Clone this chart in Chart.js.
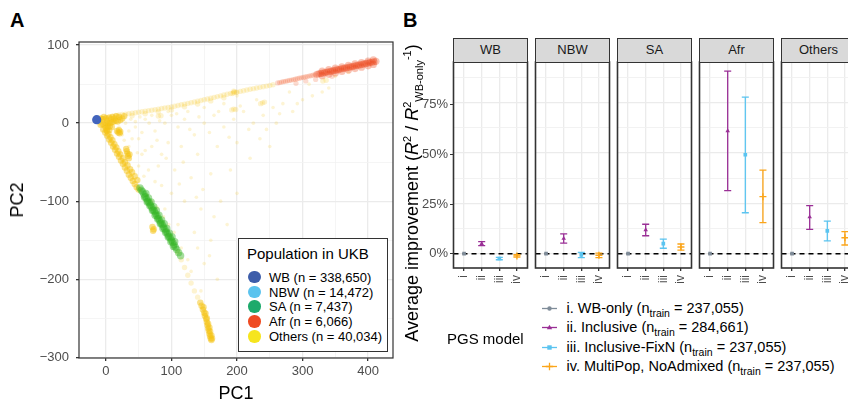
<!DOCTYPE html>
<html><head><meta charset="utf-8">
<script src="https://cdn.jsdelivr.net/npm/chart.js"></script>
<style>
html,body{margin:0;padding:0;background:#fff}
body{width:848px;height:404px;overflow:hidden;position:relative;font-family:"Liberation Sans",Arial,Helvetica,sans-serif;color:#000}
.abs{position:absolute;white-space:nowrap}
canvas{position:absolute}
.strip{position:absolute;background:#D9D9D9;border:1.5px solid #333;box-sizing:border-box;font-size:13px;color:#1A1A1A;text-align:center}
.lg{position:absolute;font-size:13px;line-height:13px;white-space:nowrap}
.lgb{position:absolute;font-size:14.5px;line-height:14.5px;white-space:nowrap}
.lgb sub{font-size:10.5px;vertical-align:-4px;line-height:0}
.dot{position:absolute;width:12.5px;height:12.5px;border-radius:50%}
</style></head><body>
<div class="abs" style="left:10px;top:10px;font-size:20px;line-height:20px;font-weight:bold">A</div>
<div class="abs" style="left:403px;top:10px;font-size:20px;line-height:20px;font-weight:bold">B</div>
<canvas id="pca" width="400" height="404" style="left:0;top:0;width:400px;height:404px"></canvas>
<div class="abs" style="left:236px;top:393px;font-size:18px;line-height:18px;transform:translate(-50%,-50%)">PC1</div>
<div class="abs" style="left:17px;top:200px;font-size:18px;line-height:18px;transform:translate(-50%,-50%) rotate(-90deg)">PC2</div>
<div class="abs" style="left:413px;top:193px;font-size:18px;line-height:18px;transform:translate(-50%,-50%) rotate(-90deg)">Average improvement (<i>R</i><sup style="font-size:11px">2</sup> / <i>R</i><sup style="font-size:11px">2</sup><sub style="font-size:11px">WB-only</sub><sup style="font-size:11px">-1</sup>)</div>
<div id="legA"></div>
<div id="facets"></div>
<div id="legB"></div>
<script>
// ---------- Panel A data (PC1, PC2) ----------
const popLabels = ['WB (n = 338,650)','NBW (n = 14,472)','SA (n = 7,437)','Afr (n = 6,066)','Others (n = 40,034)'];
const popColors = ['#3D5DAA','#5BC3EE','#1DAA6B','#EF4B22','#F6E51E'];
const pc1Ticks = [0,50,100,150,200,250,300,350,400];
const pc2Ticks = [-300,-250,-200,-150,-100,-50,0,50,100];
const wbPoints = [[-14,4.5]];
const nbwPoints = [[-13,4],[-15,5],[-12,3]];
const saPoints = [[52,-83],[54,-86],[56,-88],[58,-91],[60,-94],[62,-97],[64,-100],[66,-102],[68,-105],[70,-108],[72,-111],[74,-113],[76,-116],[78,-119],[80,-122],[82,-125],[84,-128],[86,-130],[88,-133],[90,-136],[92,-139],[94,-142],[96,-145],[98,-147],[100,-150],[102,-153],[104,-156],[106,-159],[108,-162],
  [61,-90],[65,-96],[69,-101],[73,-107],[77,-112],[81,-118],[85,-124],[89,-129],[93,-135],[97,-141],[101,-146],[105,-152],
  [59,-95],[63,-101],[67,-106],[71,-112],[75,-118],[79,-123],[83,-129],[87,-135],[91,-140],[95,-146],[99,-152],[103,-158],
  [111,-166],[114,-170]];
const afrTail = [[262,51.5],[265,52],[268,52.6],[271,53.1],[274,53.7],[277,54.2],[280,54.8],[283,55.3],[286,55.9],[289,56.4],[292,57],[295,57.6],[298,58.2],[301,58.7],[304,59.3],[307,59.8],[310,60.4],[313,60.9],[316,61.5],[319,62],
  [290,51],[305,54],[320,56],[345,60]];
const afrDense = [[322,62.6],[325,63.2],[328,63.7],[331,64.3],[334,64.8],[337,65.4],[340,65.9],[343,66.5],[346,67],[349,67.6],[352,68.2],[355,68.7],[358,69.3],[361,69.8],[364,70.4],[367,70.9],[370,71.5],[373,72],[376,72.6],[379,73.1],[382,73.7],[385,74.3],[388,74.8],[391,75.4],[394,75.9],[397,76.5],[400,77],[403,77.6],[406,78.1],[409,78.7],[412,79.2],
  [330,66.8],[340,68.7],[350,70.5],[360,72.3],[370,74.1],[380,75.9],[390,77.7],[400,79.5],[408,81],
  [330,60.8],[340,62.6],[350,64.4],[360,66.3],[370,68.1],[380,69.9],[390,71.7],[400,73.5],[408,75.2]];
const othersCore = [[-10,2],[-8,6],[-5,5],[-3,8],[0,6],[2,3],[5,7],[8,5],[10,8],[13,6],[16,9],[20,8],[-8,-2],[-5,-1],[-2,-3],[0,0],[3,-1],[6,0],[9,1],[12,2],[15,3],[18,2],[22,4],[25,6],[28,9],[0,-6],[3,-5],[6,-4],[9,-5],[2,-10],[5,-9],
  [17,-10],[19,-12],[21,-13],[20,-9],[22,-11],
  [31,-33],[32,-36],[33,-39],[34,-42],[35,-45],[36,-40],
  [-4,-8],[-1,-12],[2,-16],[5,-21],[8,-25],[11,-30],[14,-34],[17,-39],[20,-43],[23,-48],[26,-52],[29,-57],[32,-61],[35,-66],[38,-70],[41,-74],[44,-78],[47,-82],[50,-85],
  [1,-9],[4,-14],[7,-18],[10,-22],[13,-27],[16,-31],[19,-36],[22,-40],[26,-45],[29,-50],[33,-54],[37,-59],[40,-63],[44,-68],[48,-73],
  [144,-230],[146,-234],[148,-239],[150,-243],[151,-247],[153,-251],[154,-255],[155,-259],[156,-263],[157,-266],[158,-270],[159,-273],[160,-276],[161,-278],
  [149,-236],[152,-244],[154,-250],[156,-257],[158,-262],[159,-267],[161,-272],[162,-276],
  [71,-133],[73,-136],[72,-138]];
const othersArm = [[-5,6],[0,7],[5,8],[10,9],[15,9.8],[20,10.5],[25,11],[30,11.6],[35,12.2],[40,12.8],[45,13.4],[50,14],[55,14.7],[60,15.3],[65,16],[70,16.6],[75,17.3],[80,18],[85,18.7],[90,19.4],[95,20.1],[100,20.8],[105,21.7],[110,22.6],[115,23.5],[120,24.4],[125,25.3],[130,26.2],[135,27.1],[140,28],[145,29],[150,30],[155,31],[160,32],[165,33],[170,34],[175,35],[180,36],[185,37],[190,38],[195,39],[200,39.8],[205,40.7],[210,41.6],[215,42.5],[220,43.4],[225,44.2],[230,45],[235,45.9],[240,46.7],[245,47.5],[250,48.3],[255,49.2],
  [20,7],[40,9.5],[60,12],[80,14.5],[100,17],[120,21],[140,24.5],[160,28.5],[180,32.5],
  [193,38],[196,40],[199,39.5],[195,41],
  [80,9],[84,9.5],[192,17],[195,18],[198,17.5],[236,25],[239,26],[242,27],[331,54],[336,55],
  [110,-165],[115,-175],[120,-185],[125,-195],[130,-205],[135,-215],[140,-223]];
const othersCloud = [[30,0],[45,-5],[60,5],[75,-10],[90,0],[100,10],[110,-5],[120,5],[135,-15],[150,0],[165,10],[180,-5],[195,5],[210,15],[225,0],[240,10],[255,20],[270,25],[285,15],[300,30],[315,35],[330,40],[260,0],[235,-20],[200,-25],[170,-30],[140,-40],[115,-30],[95,-25],[70,-30],[55,-40],[80,-55],[105,-60],[130,-70],[160,-65],[190,-60],[220,-45],[250,-30],[120,-100],[145,-110],[175,-100],[200,-90],[100,-90],[135,-140],[160,-150],[185,-130],[150,-180],[170,-200],[130,-190],[145,-215],[40,-20],[25,-15],[65,-60],[85,-80],[50,-55],[35,-30],[180,25],[150,20],[125,15],[95,15],[70,10],[200,35],[230,30],[280,40],[310,50],[350,60],[370,65],[340,45],[110,-130],[90,-110],[115,-160],[125,-175],[62,-92],[70,-100],[78,-108],[88,-120],[96,-130],[104,-140],[20,-5],[35,-10],[50,-20],[60,-35],[85,-40],[45,2],[55,-12],
  [38,5],[52,8],[66,0],[82,3],[108,12],[128,-8],[142,8],[158,-12],[172,15],[188,-18],[205,22],[218,-8],[245,-8],[265,12],[292,25],[78,-22],[92,-45],[118,-50],[148,-85],[165,-120],[112,-78],[138,-95],[158,-170],[140,-160],[75,-75],[58,-68],[48,-38],[28,-22]];

// ---------- Panel B data (% improvement) ----------
const facetNames = ['WB','NBW','SA','Afr','Others'];
const modelTicks = ['i','ii','iii','iv'];
const modelNames = ['i. WB-only (n<sub>train</sub> = 237,055)','ii. Inclusive (n<sub>train</sub> = 284,661)','iii. Inclusive-FixN (n<sub>train</sub> = 237,055)','iv. MultiPop, NoAdmixed (n<sub>train</sub> = 237,055)'];
const modelColors = ['#7F8C99','#9A2F96','#5BC4F0','#FBA51A'];
const modelShapes = ['rect','triangle','rect','cross'];
const est_i   = [0, 0, 0, 0, 0];
const est_ii  = [5.0, 7.5, 11.8, 60.9, 18.2];
const lo_ii   = [4.0, 5.2, 8.9, 31.3, 12.1];
const hi_ii   = [6.0, 9.8, 14.6, 90.6, 23.8];
const est_iii = [-2.4, -0.6, 5.0, 49.1, 11.3];
const lo_iii  = [-3.0, -2.0, 2.7, 20.3, 6.4];
const hi_iii  = [-1.8, 0.7, 7.2, 77.7, 16.2];
const est_iv  = [-1.1, -0.8, 3.3, 28.3, 7.9];
const lo_iv   = [-1.7, -2.0, 1.8, 15.4, 4.3];
const hi_iv   = [-0.5, 0.3, 4.8, 41.5, 10.9];
const yPctTicks = [0, 12.5, 25, 37.5, 50, 62.5, 75, 87.5];

const FONT = '"Liberation Sans", Arial, Helvetica, sans-serif';
Chart.defaults.font.family = FONT;

const framePlugin = {
  id: 'frame',
  afterDatasetsDraw(chart, args, opts) {
    if (!opts.width) return;
    const a = chart.chartArea, ctx = chart.ctx;
    ctx.save();
    ctx.strokeStyle = opts.color || '#333';
    ctx.lineWidth = opts.width;
    ctx.strokeRect(a.left, a.top, a.right - a.left, a.bottom - a.top);
    ctx.restore();
  }
};
const toXY = arr => arr.map(p => ({x: p[0], y: p[1]}));
const minus = v => String(v).replace('-', '\u2212');
const isMajA = c => c.tick && c.tick.value % 100 === 0;

// ---------- Panel A ----------
new Chart(document.getElementById('pca'), {
  type: 'scatter',
  data: {datasets: [
    {label: 'WB', data: toXY(wbPoints), backgroundColor: 'rgba(66,100,188,1)', pointRadius: 4.6, borderWidth: 0},
    {label: 'Afr', data: toXY(afrDense), backgroundColor: 'rgba(236,72,28,0.32)', pointRadius: 3.6, borderWidth: 0},
    {label: 'Afr tail', data: toXY(afrTail), backgroundColor: 'rgba(240,90,40,0.22)', pointRadius: 2.6, borderWidth: 0},
    {label: 'SA', data: toXY(saPoints), backgroundColor: 'rgba(56,182,40,0.45)', pointRadius: 3.7, borderWidth: 0},
    {label: 'NBW', data: toXY(nbwPoints), backgroundColor: 'rgba(91,195,238,0.5)', pointRadius: 3, borderWidth: 0},
    {label: 'Others', data: toXY(othersCore), backgroundColor: 'rgba(246,196,20,0.5)', pointRadius: 3.2, borderWidth: 0},
    {label: 'Others arm', data: toXY(othersArm), backgroundColor: 'rgba(246,196,20,0.2)', pointRadius: 2.7, borderWidth: 0},
    {label: 'Others cloud', data: toXY(othersCloud), backgroundColor: 'rgba(246,200,40,0.2)', pointRadius: 1.8, borderWidth: 0}
  ]},
  options: {
    responsive: false, animation: false, events: [],
    layout: {padding: {top: 42, right: 7, left: 0, bottom: 0}},
    plugins: {legend: {display: false}, tooltip: {enabled: false}, frame: {color: '#333', width: 1.2}},
    scales: {
      x: {type: 'linear', min: -41, max: 438,
        afterBuildTicks: s => { s.ticks = pc1Ticks.map(v => ({value: v})); },
        afterFit: s => { s.height = 46; },
        ticks: {autoSkip: false, maxRotation: 0, color: '#4D4D4D', font: {size: 13}, padding: 3,
          callback: v => (v % 100 === 0 ? minus(v) : '')},
        grid: {color: c => (isMajA(c) ? '#EBEBEB' : '#F3F3F3'), lineWidth: c => (isMajA(c) ? 1.3 : 0.8),
          tickLength: 3, tickColor: c => (isMajA(c) ? '#333' : 'rgba(0,0,0,0)')},
        border: {display: false}},
      y: {type: 'linear', min: -301, max: 104,
        afterBuildTicks: s => { s.ticks = pc2Ticks.map(v => ({value: v})); },
        afterFit: s => { s.width = 79; },
        ticks: {autoSkip: false, color: '#4D4D4D', font: {size: 13}, padding: 7,
          callback: v => (v % 100 === 0 ? minus(v) : '')},
        grid: {color: c => (isMajA(c) ? '#EBEBEB' : '#F3F3F3'), lineWidth: c => (isMajA(c) ? 1.3 : 0.8),
          tickLength: 3, tickColor: c => (isMajA(c) ? '#333' : 'rgba(0,0,0,0)')},
        border: {display: false}}
    }
  },
  plugins: [framePlugin]
});

// Legend A
(function(){
  const L = document.getElementById('legA');
  let h = '<div class="abs" style="left:238px;top:238px;width:150px;height:114px;border:1px solid #333;box-sizing:border-box;background:#fff"></div>';
  h += '<div class="abs" style="left:247px;top:246px;font-size:15px;line-height:15px">Population in UKB</div>';
  const ys = [277, 292, 306.5, 321.5, 336.5];
  popLabels.forEach((t, i) => {
    h += '<div class="dot" style="left:248px;top:' + (ys[i] - 6.25) + 'px;background:' + popColors[i] + '"></div>';
    h += '<div class="lg" style="left:269px;top:' + (ys[i] - 6.3) + 'px">' + t + '</div>';
  });
  L.innerHTML = h;
})();

// ---------- Panel B facets ----------
const estAll = [est_i, est_ii, est_iii, est_iv];
const loAll = [null, lo_ii, lo_iii, lo_iv];
const hiAll = [null, hi_ii, hi_iii, hi_iv];
const errPlugin = {
  id: 'errbars',
  beforeDatasetsDraw(chart, args, opts) {
    if (opts.facet === undefined || opts.facet < 0) return;
    const f = opts.facet, ctx = chart.ctx, x = chart.scales.x, y = chart.scales.y, a = chart.chartArea;
    ctx.save();
    ctx.strokeStyle = '#000'; ctx.lineWidth = 1.4; ctx.setLineDash([5, 4]);
    const y0 = y.getPixelForValue(0);
    ctx.beginPath(); ctx.moveTo(a.left, y0); ctx.lineTo(a.right, y0); ctx.stroke();
    ctx.setLineDash([]);
    ctx.lineWidth = 1.3;
    for (let m = 1; m < 4; m++) {
      const xp = x.getPixelForValue(m + 1);
      const hw = x.getPixelForValue(m + 1 + 0.2) - xp;
      const yl = y.getPixelForValue(loAll[m][f]), yh = y.getPixelForValue(hiAll[m][f]);
      ctx.strokeStyle = modelColors[m];
      ctx.beginPath();
      ctx.moveTo(xp, yl); ctx.lineTo(xp, yh);
      ctx.moveTo(xp - hw, yl); ctx.lineTo(xp + hw, yl);
      ctx.moveTo(xp - hw, yh); ctx.lineTo(xp + hw, yh);
      ctx.stroke();
    }
    ctx.restore();
  }
};

const facetLeft = [453.5, 535.5, 617.5, 699.5, 781.5];
const PW = 74, CW = 96, PADL_EXTRA = 10;
const fc = document.getElementById('facets');
const yRange = {min: -7.1, max: 95.1};
const isMajB = c => c.tick && c.tick.value % 25 === 0;

function makeCanvas(left, width) {
  const cv = document.createElement('canvas');
  cv.width = width; cv.height = 245;
  cv.style.left = left + 'px'; cv.style.top = '55px'; cv.style.width = width + 'px'; cv.style.height = '245px';
  fc.appendChild(cv);
  return cv;
}

facetNames.forEach((name, f) => {
  const cLeft = Math.floor(facetLeft[f]) - PADL_EXTRA;
  const padL = facetLeft[f] - cLeft;
  const cv = makeCanvas(cLeft, CW);
  const st = document.createElement('div');
  st.className = 'strip';
  st.style.left = (facetLeft[f] - 0.75) + 'px'; st.style.top = '37.5px';
  st.style.width = (PW + 1.5) + 'px'; st.style.height = '25.25px';
  st.style.lineHeight = '22px';
  st.textContent = name;
  fc.appendChild(st);
  new Chart(cv, {
    type: 'scatter',
    data: {datasets: estAll.map((e, m) => ({
      label: modelTicks[m], data: [{x: m + 1, y: e[f]}],
      pointStyle: modelShapes[m], pointRadius: m === 3 ? 3.5 : 2.6,
      backgroundColor: modelColors[m], borderColor: modelColors[m], borderWidth: m === 3 ? 1.4 : 0
    }))},
    options: {
      responsive: false, animation: false, events: [],
      layout: {padding: {top: 7, left: padL, right: CW - padL - PW, bottom: 0}},
      plugins: {legend: {display: false}, tooltip: {enabled: false}, frame: {color: '#333', width: 1.6}, errbars: {facet: f}},
      scales: {
        x: {type: 'linear', min: 0.4, max: 4.6,
          afterBuildTicks: s => { s.ticks = [1, 2, 3, 4].map(v => ({value: v})); },
          afterFit: s => { s.height = 32; },
          ticks: {autoSkip: false, minRotation: 90, maxRotation: 90, color: '#4D4D4D', font: {size: 12}, padding: 4,
            callback: v => modelTicks[v - 1]},
          grid: {color: '#EBEBEB', lineWidth: 1.3, tickLength: 3, tickColor: '#333'},
          border: {display: false}},
        y: {type: 'linear', min: yRange.min, max: yRange.max,
          afterBuildTicks: s => { s.ticks = yPctTicks.map(v => ({value: v})); },
          afterFit: s => { s.width = 0; },
          ticks: {display: false},
          grid: {color: c => (isMajB(c) ? '#EBEBEB' : '#F0F0F0'), lineWidth: c => (isMajB(c) ? 1.3 : 0.9), drawTicks: false},
          border: {display: false}}
      }
    },
    plugins: [framePlugin, errPlugin]
  });
});

// y axis (labels and tick marks) of the facet row, sharing the first facet's area
(function(){
  const cLeft = 410, cW = 130;
  const yW = facetLeft[0] - cLeft;
  const cv = makeCanvas(cLeft, cW);
  new Chart(cv, {
    type: 'scatter',
    data: {datasets: []},
    options: {
      responsive: false, animation: false, events: [],
      layout: {padding: {top: 7, left: 0, right: cW - yW - PW, bottom: 0}},
      plugins: {legend: {display: false}, tooltip: {enabled: false}, frame: {width: 0}, errbars: {facet: -1}},
      scales: {
        x: {type: 'linear', min: 0.4, max: 4.6, afterFit: s => { s.height = 32; },
          ticks: {display: false}, grid: {display: false}, border: {display: false}},
        y: {type: 'linear', min: yRange.min, max: yRange.max,
          afterBuildTicks: s => { s.ticks = yPctTicks.map(v => ({value: v})); },
          afterFit: s => { s.width = yW; },
          ticks: {autoSkip: false, color: '#4D4D4D', font: {size: 13}, padding: 2,
            callback: v => (v % 25 === 0 ? v + '%' : '')},
          grid: {drawOnChartArea: false, drawTicks: true, tickLength: 3.5,
            tickColor: c => (isMajB(c) ? '#333' : 'rgba(0,0,0,0)')},
          border: {display: false}}
      }
    },
    plugins: [framePlugin, errPlugin]
  });
})();

// Legend B
(function(){
  const L = document.getElementById('legB');
  let h = '<div class="abs" style="left:447px;top:331px;font-size:15px;line-height:15px">PGS model</div>';
  const ys = [308, 327.5, 347, 366.5];
  modelNames.forEach((t, m) => {
    const c = modelColors[m];
    let mk = '';
    if (m === 0) mk = '<circle cx="7.5" cy="7.5" r="2.2" fill="' + c + '"/>';
    if (m === 1) mk = '<polygon points="7.5,4.8 10.2,9.3 4.8,9.3" fill="' + c + '"/>';
    if (m === 2) mk = '<rect x="5.3" y="5.3" width="4.4" height="4.4" fill="' + c + '"/>';
    if (m === 3) mk = '<path d="M7.5 3.8V11.2M3.8 7.5H11.2" stroke="' + c + '" stroke-width="1.3"/>';
    h += '<svg class="abs" style="left:541.5px;top:' + (ys[m] - 7.5) + 'px" width="15" height="15"><line x1="0" y1="7.5" x2="15" y2="7.5" stroke="' + c + '" stroke-width="1.3"/>' + mk + '</svg>';
    h += '<div class="lgb" style="left:566.5px;top:' + (ys[m] - 7.2) + 'px">' + t + '</div>';
  });
  L.innerHTML = h;
})();
</script>
</body></html>
